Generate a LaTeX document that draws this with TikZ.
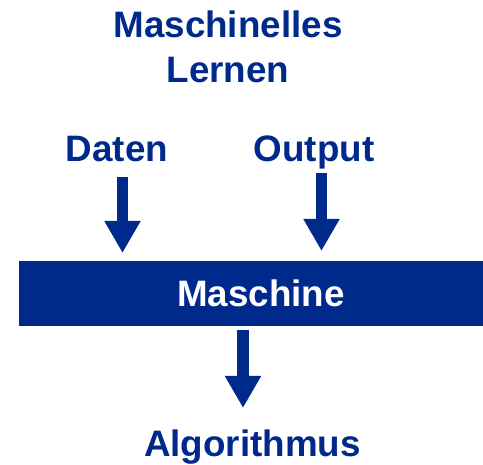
\documentclass[tikz,border=0pt]{standalone}
\usepackage{fontspec}
\setmainfont{Liberation Sans}
\usetikzlibrary{arrows.meta}
\definecolor{mblue}{RGB}{0,41,140}
\begin{document}
\begin{tikzpicture}[x=1pt,y=-1pt,
  lbl/.style={text=mblue,font=\fontsize{36.8}{45}\selectfont\bfseries,anchor=base,inner sep=0pt},
  bigarrow/.style={draw=mblue,fill=mblue,line width=11pt,line cap=butt,
    -{Triangle[width=34pt,length=32pt]}}]
\useasboundingbox (0,0) rectangle (483,465);
\node[lbl] (t1) at (228,38) {Maschinelles};
\node[lbl] (t2) at (228,83) {Lernen};
\node[lbl] (daten) at (117,162) {Daten};
\node[lbl] (output) at (314,162) {Output};
\fill[mblue] (19,261) rectangle (483,326);
\node[lbl,text=white] (masch) at (261,307) {Maschine};
\node[lbl] (algo) at (252.5,457) {Algorithmus};
\coordinate (a1s) at (122.5,177);
\coordinate (a1e) at (122.5,253);
\coordinate (a2s) at (321.5,173);
\coordinate (a2e) at (321.5,251);
\coordinate (a3s) at (243,330);
\coordinate (a3e) at (243,408);
\draw[bigarrow] (a1s) -- (a1e);
\draw[bigarrow] (a2s) -- (a2e);
\draw[bigarrow,line width=12pt] (a3s) -- (a3e);
\end{tikzpicture}
\end{document}
